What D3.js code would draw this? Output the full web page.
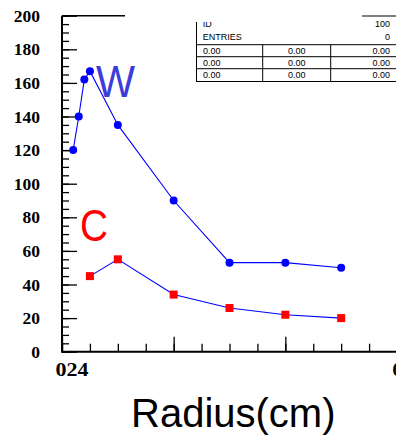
<!DOCTYPE html>
<html>
<head>
<meta charset="utf-8">
<script src="https://cdn.jsdelivr.net/npm/d3@7"></script>
<style>
  body { margin: 0; background: #fff; }
  svg { display: block; }
</style>
</head>
<body>
<div id="chart"></div>
<script>
// radius (cm) of each measurement
const radiusW = [2, 3, 4, 5, 10, 20, 30, 40, 50];
const valuesW = [120, 140, 162, 167, 135, 90, 53, 53, 50];
const radiusC = [5, 10, 20, 30, 40, 50];
const valuesC = [45, 55, 34, 26, 22, 20];

const yTicks = [0, 20, 40, 60, 80, 100, 120, 140, 160, 180, 200];
const statRows = [['0.00', '0.00', '0.00'], ['0.00', '0.00', '0.00'], ['0.00', '0.00', '0.00']];

const width = 396, height = 438;

const svg = d3.select('#chart').append('svg')
  .attr('width', width)
  .attr('height', height)
  .style('background-color', '#fff');

// scales
const x = d3.scaleLinear().domain([0, 60]).range([62, 397]);
const y = d3.scaleLinear().domain([0, 200]).range([351.7, 15.7]);

// y axis: major and minor ticks point into the plot
svg.append('g')
  .attr('transform', `translate(${x(0)},0)`)
  .call(d3.axisRight(y).tickValues(d3.range(0, 201, 5)).tickSize(7).tickFormat(''))
  .call(g => g.select('.domain').remove());
svg.append('g')
  .attr('transform', `translate(${x(0)},0)`)
  .call(d3.axisRight(y).tickValues(yTicks).tickSize(15).tickFormat(''))
  .call(g => g.select('.domain').remove());
svg.append('g')
  .attr('class', 'ylab')
  .attr('transform', `translate(${x(0)},0)`)
  .call(d3.axisLeft(y).tickValues(yTicks).tickSize(0).tickPadding(22))
  .call(g => g.select('.domain').remove())
  .selectAll('text')
  .style('font-family', '"Liberation Serif", "Times New Roman", serif')
  .style('font-weight', 'bold')
  .style('font-size', '17.5px')
  .attr('fill', '#000');

// x axis ticks point up
svg.append('g')
  .attr('transform', `translate(0,${y(0)})`)
  .call(d3.axisTop(x).tickValues(d3.range(0, 61, 5)).tickSize(8).tickFormat(''))
  .call(g => g.select('.domain').remove());
svg.append('g')
  .attr('transform', `translate(0,${y(0)})`)
  .call(d3.axisTop(x).tickValues([0, 20, 40, 60]).tickSize(15).tickFormat(''))
  .call(g => g.select('.domain').remove());

svg.selectAll('.tick line').attr('stroke', '#000').attr('stroke-width', 1.3);

// frame lines
svg.append('path')
  .attr('d', `M${x(0)},${y(200)}V${y(0)}H${width}`)
  .attr('fill', 'none').attr('stroke', '#000').attr('stroke-width', 2);
svg.append('path')
  .attr('d', `M${x(0)},${y(200)}H125`)
  .attr('fill', 'none').attr('stroke', '#000').attr('stroke-width', 1.5);

// x labels (drawn overlapping like the original)
const xlab = svg.append('g')
  .style('font-family', '"Liberation Serif", "Times New Roman", serif')
  .style('font-weight', 'bold')
  .style('font-size', '18.5px');
xlab.append('text').attr('x', 55.5).attr('y', 375.5)
  .attr('textLength', 33).attr('lengthAdjust', 'spacingAndGlyphs').text('024');
xlab.append('text').attr('x', 392.5).attr('y', 376).text('6');

// lines
const lineW = d3.line().x((d, i) => x(radiusW[i])).y(d => y(d));
const lineC = d3.line().x((d, i) => x(radiusC[i])).y(d => y(d));

svg.append('path').datum(valuesW)
  .attr('d', lineW).attr('fill', 'none').attr('stroke', '#0000ff').attr('stroke-width', 1.1);
svg.append('path').datum(valuesC)
  .attr('d', lineC).attr('fill', 'none').attr('stroke', '#0000ff').attr('stroke-width', 1.1);

svg.selectAll('circle.w').data(valuesW).enter().append('circle')
  .attr('class', 'w')
  .attr('cx', (d, i) => x(radiusW[i]))
  .attr('cy', d => y(d))
  .attr('r', 4)
  .attr('fill', '#0000ff');

svg.selectAll('rect.c').data(valuesC).enter().append('rect')
  .attr('class', 'c')
  .attr('x', (d, i) => x(radiusC[i]) - 4)
  .attr('y', d => y(d) - 4)
  .attr('width', 8)
  .attr('height', 8)
  .attr('fill', '#ff0000');

// curve labels
svg.append('text').attr('x', 96).attr('y', 96.7)
  .attr('textLength', 39).attr('lengthAdjust', 'spacingAndGlyphs')
  .style('font-family', '"Liberation Sans", Arial, sans-serif')
  .style('font-size', '44px').attr('fill', '#3c3cd8').text('W');
svg.append('text').attr('x', 80).attr('y', 240.5)
  .attr('textLength', 28).attr('lengthAdjust', 'spacingAndGlyphs')
  .style('font-family', '"Liberation Sans", Arial, sans-serif')
  .style('font-size', '44px').attr('fill', '#ff0000').text('C');

// axis title
svg.append('text').attr('x', 131).attr('y', 427)
  .style('font-family', '"Liberation Sans", Arial, sans-serif')
  .style('font-size', '40px').attr('fill', '#000').text('Radius(cm)');

// stats box
const stats = svg.append('g')
  .style('font-family', '"Liberation Sans", Arial, sans-serif')
  .style('font-size', '9px').attr('fill', '#000');
const clip = svg.append('clipPath').attr('id', 'boxclip');
clip.append('rect').attr('x', 190).attr('y', 22).attr('width', 150).attr('height', 70);
stats.append('text').attr('x', 202.7).attr('y', 26.7).attr('clip-path', 'url(#boxclip)').text('ID');
stats.append('text').attr('x', 390).attr('y', 26.7).attr('text-anchor', 'end').text('100');
stats.append('text').attr('x', 202.7).attr('y', 40).text('ENTRIES');
stats.append('text').attr('x', 390).attr('y', 40).attr('text-anchor', 'end').text('0');
stats.append('line').attr('x1', 362).attr('x2', 396).attr('y1', 16).attr('y2', 16).attr('stroke', '#000');
stats.append('line').attr('x1', 196.5).attr('x2', 196.5).attr('y1', 22).attr('y2', 82).attr('stroke', '#000');
const rowY = [44.7, 56.7, 68.7, 81.5];
rowY.forEach(ry => stats.append('line').attr('x1', 196).attr('x2', 396).attr('y1', ry).attr('y2', ry).attr('stroke', '#000'));
[262.7, 330.7].forEach(cx => stats.append('line').attr('x1', cx).attr('x2', cx).attr('y1', rowY[0]).attr('y2', rowY[3]).attr('stroke', '#000'));
statRows.forEach((row, i) => {
  const by = rowY[i] + 9.5;
  stats.append('text').attr('x', 203).attr('y', by).text(row[0]);
  stats.append('text').attr('x', 296.7).attr('y', by).attr('text-anchor', 'middle').text(row[1]);
  stats.append('text').attr('x', 390).attr('y', by).attr('text-anchor', 'end').text(row[2]);
});
</script>
</body>
</html>
